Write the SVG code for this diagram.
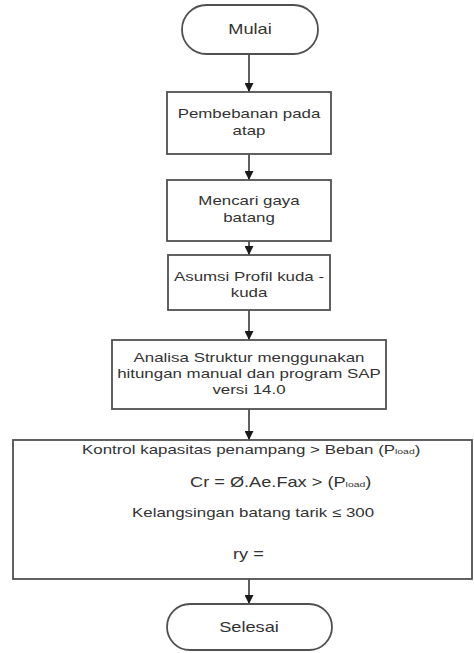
<svg xmlns="http://www.w3.org/2000/svg" width="474" height="653" viewBox="0 0 474 653">
<style>
  .shape { fill: #ffffff; stroke: #505050; stroke-width: 1.8; }
  .conn { stroke: #2a2a2a; stroke-width: 1.5; fill: none; marker-end: url(#arrow); }
  text { font-family: "Liberation Sans", Arial, sans-serif; fill: #333333; }
  .t13 { font-size: 13px; }
  .t14 { font-size: 14px; }
  .sub { font-size: 8px; }
</style>
<defs>
  <marker id="arrow" viewBox="0 0 10 10" refX="10" refY="5" markerWidth="9" markerHeight="9" markerUnits="userSpaceOnUse" orient="auto">
    <path d="M0,0 L10,5 L0,10 Z" fill="#1a1a1a"/>
  </marker>
</defs>
<rect width="474" height="653" fill="#ffffff"/>

<g id="connectors">
  <line class="conn" x1="249" y1="54" x2="249" y2="92"/>
  <line class="conn" x1="249" y1="154" x2="249" y2="180"/>
  <line class="conn" x1="249" y1="241" x2="249" y2="255"/>
  <line class="conn" x1="249" y1="310" x2="249" y2="340"/>
  <line class="conn" x1="249" y1="409" x2="249" y2="440"/>
  <line class="conn" x1="249" y1="579" x2="249" y2="604"/>
</g>

<g id="mulai">
  <rect class="shape" x="182" y="5" width="136" height="49" rx="24.5" ry="24.5"/>
  <text class="t14" text-anchor="middle" transform="translate(250 34) scale(1.3 1)">Mulai</text>
</g>

<g id="pembebanan">
  <rect class="shape" x="167" y="92" width="164" height="62"/>
  <text class="t13" text-anchor="middle" transform="translate(249 118) scale(1.3 1)">Pembebanan pada</text>
  <text class="t13" text-anchor="middle" transform="translate(249 135) scale(1.3 1)">atap</text>
</g>

<g id="gaya-batang">
  <rect class="shape" x="167" y="180" width="164" height="61"/>
  <text class="t13" text-anchor="middle" transform="translate(249 205) scale(1.3 1)">Mencari gaya</text>
  <text class="t13" text-anchor="middle" transform="translate(249 222) scale(1.3 1)">batang</text>
</g>

<g id="asumsi-profil">
  <rect class="shape" x="168" y="255" width="162" height="55"/>
  <text class="t13" text-anchor="middle" transform="translate(249 281) scale(1.3 1)">Asumsi Profil kuda -</text>
  <text class="t13" text-anchor="middle" transform="translate(249 297) scale(1.3 1)">kuda</text>
</g>

<g id="analisa">
  <rect class="shape" x="112" y="340" width="274" height="69"/>
  <text class="t13" text-anchor="middle" transform="translate(249 362) scale(1.3 1)">Analisa Struktur menggunakan</text>
  <text class="t13" text-anchor="middle" transform="translate(249 378) scale(1.3 1)">hitungan manual dan program SAP</text>
  <text class="t13" text-anchor="middle" transform="translate(249 394) scale(1.3 1)">versi 14.0</text>
</g>

<g id="kontrol">
  <rect class="shape" x="13" y="440" width="459" height="139"/>
  <text class="t13" transform="translate(82 454) scale(1.3 1)">Kontrol kapasitas penampang &gt; Beban (P<tspan class="sub">load</tspan>)</text>
  <text class="t14" transform="translate(190 487) scale(1.3 1)">Cr = Ø.Ae.Fax &gt; (P<tspan class="sub">load</tspan>)</text>
  <text class="t13" transform="translate(132 517) scale(1.3 1)">Kelangsingan batang tarik ≤ 300</text>
  <text class="t14" transform="translate(233 559) scale(1.3 1)">ry =</text>
</g>

<g id="selesai">
  <rect class="shape" x="167" y="604" width="165" height="46" rx="23" ry="23"/>
  <text class="t14" text-anchor="middle" transform="translate(249 632) scale(1.3 1)">Selesai</text>
</g>
</svg>
